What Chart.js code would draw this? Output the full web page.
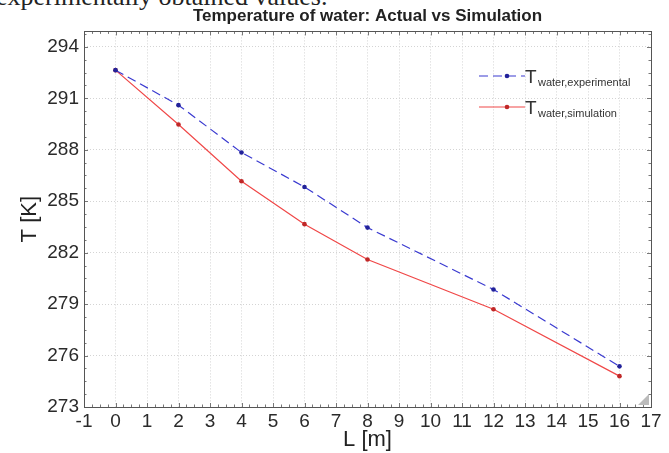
<!DOCTYPE html>
<html>
<head>
<meta charset="utf-8">
<script src="https://cdn.jsdelivr.net/npm/chart.js@4.4.1/dist/chart.umd.min.js"></script>
<style>
html, body { margin: 0; padding: 0; background: #fff; overflow: hidden; }
#wrap { position: relative; width: 669px; height: 453px; }
#cut { position: absolute; left: -4px; top: -16px; font: 26px "Liberation Serif", serif; line-height: 26px; color: #222; white-space: nowrap; }
canvas { position: absolute; left: 0; top: 0; }
</style>
</head>
<body>
<div id="wrap">
  <div id="cut">experimentally obtained values.</div>
  <canvas id="chart" width="669" height="453"></canvas>
</div>
<script>
// values
const L = [0, 2, 4, 6, 8, 12, 16];
const tExperimental = [292.64, 290.6, 287.84, 285.83, 283.46, 279.85, 275.37];
const tSimulation = [292.64, 289.47, 286.16, 283.66, 281.6, 278.7, 274.8];
const xTicks = [-1, 0, 1, 2, 3, 4, 5, 6, 7, 8, 9, 10, 11, 12, 13, 14, 15, 16, 17];
const yTicks = [273, 276, 279, 282, 285, 288, 291, 294];

const blue = '#3a3ad0';
const red = '#f04848';

function pts(ys) {
    return L.map((x, i) => ({ x: x, y: ys[i] }));
}

// box, inner minor ticks, corner grip and the legend with subscripts
const decor = {
    id: 'decor',
    afterDraw(chart) {
        const ctx = chart.ctx;
        const a = chart.chartArea;
        const xs = chart.scales.x;
        const ys = chart.scales.y;
        ctx.save();
        ctx.strokeStyle = '#777';
        ctx.lineWidth = 1;
        ctx.beginPath();
        for (let v = -1; v <= 17.001; v += 0.25) {
            const px = Math.round(xs.getPixelForValue(v)) + 0.5;
            const len = Number.isInteger(v) ? 4 : 2.5;
            ctx.moveTo(px, a.bottom); ctx.lineTo(px, a.bottom - len);
            ctx.moveTo(px, a.top); ctx.lineTo(px, a.top + len);
        }
        for (let v = 273; v <= 294.9; v += 0.75) {
            const py = Math.round(ys.getPixelForValue(v)) + 0.5;
            const len = (v - 273) % 3 === 0 ? 4 : 2.5;
            ctx.moveTo(a.left, py); ctx.lineTo(a.left + len, py);
            ctx.moveTo(a.right, py); ctx.lineTo(a.right - len, py);
        }
        ctx.stroke();

        ctx.strokeStyle = '#555';
        ctx.strokeRect(Math.round(a.left) + 0.5, Math.round(a.top) + 0.5,
            Math.round(a.right - a.left), Math.round(a.bottom - a.top));

        // resize grip in the corner
        ctx.fillStyle = '#bbb';
        ctx.beginPath();
        ctx.moveTo(a.right - 2, a.bottom - 13);
        ctx.lineTo(a.right - 2, a.bottom - 2);
        ctx.lineTo(a.right - 13, a.bottom - 2);
        ctx.closePath();
        ctx.fill();

        // legend
        const items = [
            { ds: chart.data.datasets[0], sub: 'water,experimental', y: 76 },
            { ds: chart.data.datasets[1], sub: 'water,simulation', y: 107 }
        ];
        items.forEach(it => {
            ctx.strokeStyle = it.ds.borderColor;
            ctx.lineWidth = 1.2;
            ctx.setLineDash(it.ds.borderDash || []);
            ctx.beginPath();
            ctx.moveTo(479, it.y);
            ctx.lineTo(525, it.y);
            ctx.stroke();
            ctx.setLineDash([]);
            ctx.fillStyle = it.ds.pointBackgroundColor;
            ctx.beginPath();
            ctx.arc(507, it.y, 2.3, 0, Math.PI * 2);
            ctx.fill();
            ctx.fillStyle = '#333';
            ctx.textBaseline = 'alphabetic';
            ctx.textAlign = 'left';
            ctx.font = '19px Arial, "Liberation Sans", sans-serif';
            ctx.fillText('T', 525, it.y + 7);
            ctx.font = '11px Arial, "Liberation Sans", sans-serif';
            ctx.fillText(it.sub, 538, it.y + 10);
        });
        ctx.restore();
    }
};

new Chart(document.getElementById('chart'), {
    type: 'scatter',
    data: {
        datasets: [
            {
                label: 'T water,experimental',
                data: pts(tExperimental),
                showLine: true,
                borderColor: blue,
                borderWidth: 1.2,
                borderDash: [9, 5],
                pointRadius: 2.3,
                pointBackgroundColor: '#22229a',
                pointBorderWidth: 0
            },
            {
                label: 'T water,simulation',
                data: pts(tSimulation),
                showLine: true,
                borderColor: red,
                borderWidth: 1.2,
                pointRadius: 2.3,
                pointBackgroundColor: '#c02828',
                pointBorderWidth: 0
            }
        ]
    },
    options: {
        responsive: false,
        animation: false,
        layout: { padding: { left: 0, right: 18, top: 0, bottom: 0 } },
        plugins: {
            legend: { display: false },
            tooltip: { enabled: false },
            title: {
                display: true,
                fullSize: false,
                text: 'Temperature of water: Actual vs Simulation',
                color: '#222',
                font: { family: 'Arial, "Liberation Sans", sans-serif', size: 17, weight: 'bold' },
                padding: { top: 6, bottom: 5 }
            }
        },
        scales: {
            x: {
                type: 'linear',
                min: -1,
                max: 17,
                afterBuildTicks: s => { s.ticks = xTicks.map(v => ({ value: v })); },
                afterFit: s => { s.height = 46; },
                grid: { color: '#d4d4d4', drawTicks: false },
                border: { display: false, dash: [1, 2] },
                ticks: {
                    color: '#2a2a2a',
                    padding: 3,
                    maxRotation: 0,
                    autoSkip: false,
                    font: { family: 'Arial, "Liberation Sans", sans-serif', size: 19 }
                },
                title: {
                    display: true,
                    text: 'L [m]',
                    color: '#222',
                    font: { family: 'Arial, "Liberation Sans", sans-serif', size: 22 },
                    padding: { top: 0, bottom: 0 }
                }
            },
            y: {
                type: 'linear',
                min: 273,
                max: 294.9,
                afterBuildTicks: s => { s.ticks = yTicks.map(v => ({ value: v })); },
                afterFit: s => { s.width = 84; },
                grid: { color: '#d4d4d4', drawTicks: false },
                border: { display: false, dash: [1, 2] },
                ticks: {
                    color: '#2a2a2a',
                    padding: 5,
                    autoSkip: false,
                    font: { family: 'Arial, "Liberation Sans", sans-serif', size: 19 }
                },
                title: {
                    display: true,
                    text: 'T [K]',
                    color: '#222',
                    font: { family: 'Arial, "Liberation Sans", sans-serif', size: 22 },
                    padding: { top: 17, bottom: 0 }
                }
            }
        }
    },
    plugins: [decor]
});
</script>
</body>
</html>
